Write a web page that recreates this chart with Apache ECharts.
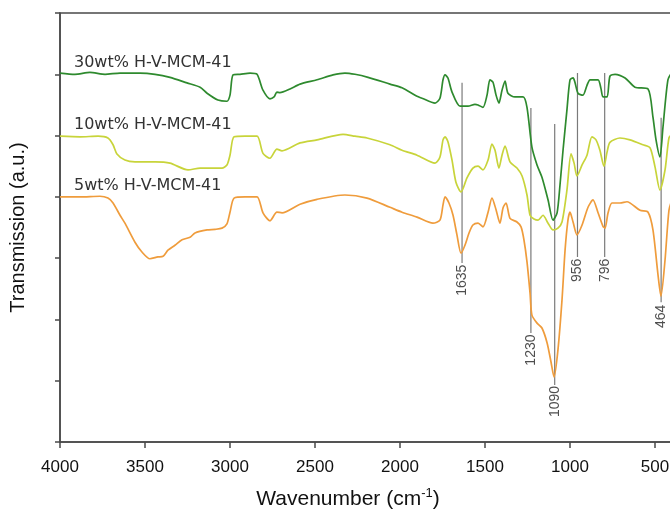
<!DOCTYPE html>
<html>
<head>
<meta charset="utf-8">
<script src="https://cdn.jsdelivr.net/npm/echarts@6/dist/echarts.min.js"></script>
<style>
  html, body { margin: 0; padding: 0; background: #fff; }
  #chart { width: 670px; height: 513px; }
</style>
</head>
<body>
<div id="chart"></div>
<script>
// FT-IR spectra of H-V-MCM-41 samples (offset transmission, arbitrary units)

const seriesNames = ['30wt% H-V-MCM-41', '10wt% H-V-MCM-41', '5wt% H-V-MCM-41'];

const wn30 = [4000, 3912, 3824, 3735, 3647, 3529, 3441, 3353, 3253, 3176, 3135, 3071, 3018, 3000, 2982, 2941, 2882, 2841,
  2806, 2765, 2741, 2724, 2706, 2647, 2588, 2488, 2394, 2324, 2265, 2188, 2059, 1988, 1900, 1871, 1794, 1765, 1747,
  1735, 1718, 1694, 1647, 1600, 1559, 1541, 1512, 1488, 1471, 1453, 1435, 1418, 1400, 1382, 1365, 1324, 1276, 1253,
  1224, 1194, 1165, 1129, 1100, 1076, 1059, 1041, 1018, 1000, 982, 971, 953, 924, 900, 882, 835, 818, 806, 782, 765,
  735, 676, 618, 541, 512, 494, 471, 453, 424, 400];
const t30 = [6.02, 6.00, 6.03, 6.00, 6.02, 6.02, 6.00, 5.95, 5.86, 5.79, 5.69, 5.58, 5.56, 5.66, 5.99, 6.00, 6.02, 6.00,
  5.74, 5.60, 5.63, 5.71, 5.70, 5.76, 5.84, 5.91, 5.99, 6.02, 6.00, 5.95, 5.84, 5.78, 5.64, 5.61, 5.53, 5.61, 5.91,
  5.99, 5.94, 5.71, 5.48, 5.48, 5.51, 5.50, 5.46, 5.66, 5.91, 5.87, 5.66, 5.53, 5.74, 5.89, 5.69, 5.63, 5.63, 5.46,
  4.81, 4.52, 4.32, 3.95, 3.62, 3.74, 4.19, 4.76, 5.42, 5.91, 5.94, 5.87, 5.69, 5.66, 5.82, 5.91, 5.91, 5.77, 5.63, 5.63, 5.97,
  6.00, 5.94, 5.79, 5.76, 5.30, 4.93, 4.65, 5.14, 5.91, 6.03];

const wn10 = [4000, 3882, 3776, 3718, 3688, 3665, 3618, 3559, 3441, 3353, 3247, 3176, 3100, 3047, 3018, 3000, 2976, 2912,
  2841, 2806, 2765, 2724, 2694, 2588, 2488, 2335, 2265, 2194, 2059, 1988, 1900, 1794, 1765, 1747, 1735, 1718, 1694,
  1671, 1641, 1606, 1571, 1541, 1512, 1482, 1459, 1441, 1418, 1400, 1382, 1353, 1312, 1282, 1253, 1235, 1212, 1188,
  1159, 1129, 1100, 1071, 1047, 1018, 994, 976, 959, 929, 900, 871, 847, 824, 800, 782, 765, 706, 647, 571, 529, 500,
  471, 441, 418, 400];
const t10 = [4.99, 4.98, 4.99, 4.96, 4.85, 4.70, 4.60, 4.57, 4.57, 4.55, 4.44, 4.47, 4.47, 4.47, 4.52, 4.68, 4.98, 4.99,
  4.99, 4.71, 4.63, 4.78, 4.75, 4.88, 4.93, 5.02, 4.99, 4.96, 4.85, 4.76, 4.68, 4.55, 4.65, 4.93, 4.98, 4.90, 4.60,
  4.24, 4.08, 4.31, 4.47, 4.50, 4.44, 4.60, 4.86, 4.76, 4.47, 4.68, 4.83, 4.57, 4.47, 4.34, 4.03, 3.70, 3.64, 3.62,
  3.70, 3.57, 3.46, 3.49, 3.59, 4.11, 4.70, 4.55, 4.34, 4.52, 4.68, 4.98, 4.93, 4.76, 4.50, 4.73, 4.89, 4.96, 4.93, 4.85, 4.80, 4.49,
  4.11, 4.44, 4.96, 5.02];

const wn5 = [4000, 3882, 3765, 3718, 3688, 3647, 3618, 3559, 3518, 3471, 3424, 3394, 3365, 3324, 3282, 3235, 3206, 3135,
  3088, 3047, 3018, 3000, 2976, 2912, 2841, 2806, 2765, 2724, 2694, 2588, 2488, 2324, 2194, 2059, 1988, 1900, 1806,
  1765, 1747, 1735, 1712, 1688, 1665, 1641, 1618, 1594, 1571, 1541, 1512, 1482, 1459, 1435, 1412, 1394, 1376, 1353,
  1312, 1288, 1271, 1253, 1235, 1224, 1194, 1165, 1135, 1112, 1094, 1071, 1047, 1029, 1012, 1000, 982, 959, 929, 894,
  865, 835, 806, 794, 776, 753, 706, 665, 588, 541, 512, 482, 465, 441, 418, 400];
const t5 = [4.00, 4.00, 4.01, 3.98, 3.90, 3.70, 3.57, 3.26, 3.10, 2.99, 3.02, 3.03, 3.13, 3.21, 3.30, 3.34, 3.41, 3.46,
  3.47, 3.49, 3.56, 3.75, 3.98, 4.00, 4.00, 3.74, 3.61, 3.75, 3.74, 3.88, 3.96, 4.03, 3.98, 3.83, 3.75, 3.67, 3.57,
  3.62, 3.87, 4.00, 3.90, 3.70, 3.38, 3.08, 3.21, 3.41, 3.54, 3.57, 3.51, 3.75, 3.98, 3.79, 3.57, 3.82, 3.90, 3.65,
  3.59, 3.51, 3.30, 2.94, 2.43, 2.07, 1.94, 1.86, 1.62, 1.31, 1.06, 1.50, 2.32, 3.13, 3.62, 3.75, 3.59, 3.38, 3.54, 3.83,
  3.95, 3.74, 3.52, 3.49, 3.74, 3.90, 3.90, 3.92, 3.78, 3.75, 3.46, 2.72, 2.38, 2.97, 3.78, 3.95];

// Assigned band positions (cm-1)
const peakWavenumbers = [1635, 1230, 1090, 956, 796, 464];
const peakLabels = ['1635', '1230', '1090', '956', '796', '464'];

const xTickValues = [500, 1000, 1500, 2000, 2500, 3000, 3500, 4000];

// Vertical extent of each marker line and the centre of its label, in axis units
const markerTop = [5.86, 5.45, 5.19, 6.02, 6.02, 5.29];
const markerBottom = [2.92, 1.78, 0.93, 3.02, 3.02, 2.28];
const markerLabelY = [2.64, 1.50, 0.66, 2.80, 2.80, 2.05];

const colors = ['#2e8a2e', '#c8d43a', '#ef9c3c'];
const spectra = [[wn30, t30], [wn10, t10], [wn5, t5]];
const FONT = 'Liberation Sans, Arial, sans-serif';

const series = [];
spectra.forEach(([wn, t], i) => {
  series.push({
    name: seriesNames[i],
    type: 'line',
    data: wn.map((w, k) => [w, t[k]]),
    symbol: 'none',
    smooth: 0.25,
    lineStyle: { color: colors[i], width: 1.7 },
    z: 3
  });
});

peakWavenumbers.forEach((w, i) => {
  series.push({
    type: 'line',
    data: [[w, markerTop[i]], [w, markerBottom[i]]],
    symbol: 'none',
    silent: true,
    lineStyle: { color: '#7a7a7a', width: 1.2 },
    z: 2
  });
});

series.push({
  type: 'scatter',
  data: peakWavenumbers.map((w, i) => ({ value: [w, markerLabelY[i]], name: peakLabels[i] })),
  symbolSize: 0,
  silent: true,
  label: {
    show: true,
    position: 'inside',
    rotate: 90,
    formatter: p => p.name,
    fontFamily: FONT,
    fontSize: 14,
    color: '#222'
  },
  z: 4
});

const chart = echarts.init(document.getElementById('chart'), null, { renderer: 'canvas' });
chart.setOption({
  animation: false,
  backgroundColor: '#fff',
  grid: {
    left: 60, top: 13, right: -2, bottom: 71,
    show: true, borderColor: '#4a4a4a', borderWidth: 1.5,
    containLabel: false, outerBoundsMode: 'none'
  },
  xAxis: {
    type: 'value',
    inverse: true,
    min: 400, max: 4000,
    name: '{t|Wavenumber (cm}{s|-1}{t|)}',
    nameLocation: 'middle',
    nameGap: 45,
    nameTextStyle: {
      padding: [0, 36, 0, 0],
      rich: {
        t: { fontFamily: FONT, fontSize: 21, color: '#111', verticalAlign: 'bottom' },
        s: { fontFamily: FONT, fontSize: 13, color: '#111', verticalAlign: 'top', padding: [0, 0, 10, 0] }
      }
    },
    axisLine: { lineStyle: { color: '#4a4a4a', width: 1.5 } },
    axisTick: { show: true, inside: false, length: 6, customValues: xTickValues, lineStyle: { color: '#4a4a4a', width: 1.5 } },
    axisLabel: {
      customValues: xTickValues,
      hideOverlap: false,
      margin: 17,
      formatter: v => String(v),
      fontFamily: FONT,
      fontSize: 17,
      color: '#111'
    },
    splitLine: { show: false }
  },
  yAxis: {
    type: 'value',
    min: 0, max: 7, interval: 1,
    name: 'Transmission (a.u.)',
    nameLocation: 'middle',
    nameGap: 32,
    nameTextStyle: { fontFamily: FONT, fontSize: 20, color: '#111' },
    axisLine: { show: true, lineStyle: { color: '#4a4a4a', width: 1.5 } },
    axisTick: { show: true, inside: false, length: 5, lineStyle: { color: '#4a4a4a', width: 1.5 } },
    axisLabel: { show: false },
    splitLine: { show: false }
  },
  graphic: seriesNames.map((n, i) => ({
    type: 'text',
    left: 74,
    top: [55, 117, 178][i],
    style: {
      text: n,
      fontFamily: 'DejaVu Sans, sans-serif',
      fontSize: 16,
      fill: '#333'
    },
    z: 10
  })),
  series: series
});
</script>
</body>
</html>
